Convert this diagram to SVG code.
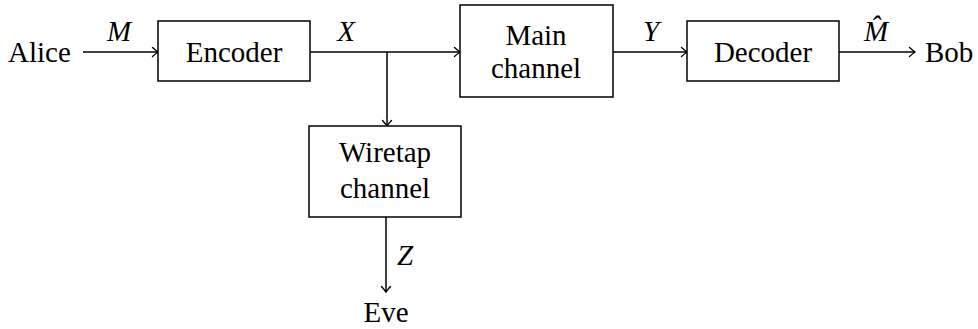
<svg xmlns="http://www.w3.org/2000/svg" width="978" height="329" viewBox="0 0 978 329">
<style>
.box{fill:#fff;stroke:#000;stroke-width:1.5}
.ln{fill:none;stroke:#000;stroke-width:1.5}
text{font-family:'Liberation Serif','Times New Roman',serif;font-size:29px;fill:#000}
.m{font-style:italic}
.c{text-anchor:middle}
</style>
<defs>
<marker id="ah" markerWidth="12" markerHeight="14" refX="10" refY="7" orient="auto" markerUnits="userSpaceOnUse">
<path d="M4.5 2.5 Q8.5 6 10 7 Q8.5 8 4.5 11.5" fill="none" stroke="#000" stroke-width="1.4" stroke-linecap="round"/>
</marker>
</defs>
<g id="connectors">
<line class="ln" x1="83" y1="52" x2="158" y2="52" marker-end="url(#ah)"/>
<line class="ln" x1="310" y1="52" x2="460" y2="52" marker-end="url(#ah)"/>
<line class="ln" x1="387" y1="52" x2="387" y2="126" marker-end="url(#ah)"/>
<line class="ln" x1="613" y1="52" x2="687" y2="52" marker-end="url(#ah)"/>
<line class="ln" x1="839" y1="52" x2="915" y2="52" marker-end="url(#ah)"/>
<line class="ln" x1="386" y1="217" x2="386" y2="292" marker-end="url(#ah)"/>
<text class="m c" x="119" y="41">M</text>
<text class="m c" x="346" y="41">X</text>
<text class="m c" x="651" y="41">Y</text>
<text class="m c" x="876" y="41">M̂</text>
<text class="m c" x="405" y="265">Z</text>
</g>
<g id="alice"><text x="8" y="62">Alice</text></g>
<g id="encoder"><rect class="box" x="158" y="21" width="152" height="60"/><text class="c" x="234" y="62">Encoder</text></g>
<g id="main"><rect class="box" x="460" y="5" width="153" height="92"/><text class="c" x="536" y="45">Main</text><text class="c" x="536" y="78">channel</text></g>
<g id="decoder"><rect class="box" x="687" y="21" width="152" height="60"/><text class="c" x="763" y="62">Decoder</text></g>
<g id="bob"><text x="925" y="62">Bob</text></g>
<g id="wiretap"><rect class="box" x="309" y="126" width="152" height="91"/><text class="c" x="385" y="162">Wiretap</text><text class="c" x="385" y="198">channel</text></g>
<g id="eve"><text class="c" x="386" y="322">Eve</text></g>
</svg>
